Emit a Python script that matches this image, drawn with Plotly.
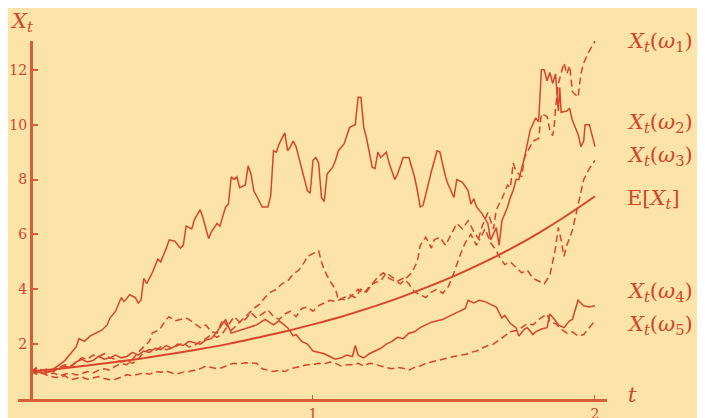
import plotly.graph_objects as go

# sample paths
t_w1 = [0.00, 0.02, 0.04, 0.06, 0.08, 0.10, 0.12, 0.14, 0.16, 0.18, 0.20, 0.22, 0.24, 0.26, 0.28, 0.30, 0.32, 0.34, 0.36, 0.38,
        0.40, 0.42, 0.44, 0.46, 0.48, 0.50, 0.52, 0.54, 0.56, 0.58, 0.60, 0.62, 0.64, 0.66, 0.68, 0.70, 0.72, 0.74, 0.76, 0.78,
        0.80, 0.82, 0.84, 0.86, 0.88, 0.90, 0.92, 0.94, 0.96, 0.98, 1.00, 1.02, 1.04, 1.06, 1.08, 1.10, 1.12, 1.14, 1.16, 1.18,
        1.20, 1.22, 1.24, 1.26, 1.28, 1.30, 1.32, 1.34, 1.36, 1.38, 1.40, 1.42, 1.44, 1.46, 1.48, 1.50, 1.52, 1.54, 1.56, 1.58,
        1.60, 1.62, 1.64, 1.65, 1.67, 1.69, 1.70, 1.71, 1.72, 1.74, 1.75, 1.77, 1.78, 1.80, 1.81, 1.83, 1.84, 1.85, 1.855, 1.86,
        1.87, 1.89, 1.90, 1.91, 1.92, 1.94, 1.95, 1.96, 1.975, 2.00]
x_w1 = [1.00, 1.15, 1.05, 1.10, 1.00, 1.15, 1.25, 1.20, 1.35, 1.50, 1.45, 1.60, 1.55, 1.65, 1.50, 1.45, 1.35, 1.40, 1.30, 1.45,
        1.70, 1.80, 1.75, 1.90, 1.80, 1.85, 1.95, 2.05, 1.90, 1.95, 2.10, 2.20, 2.35, 2.25, 2.40, 2.70, 3.00, 2.80, 2.90, 3.15,
        2.95, 3.10, 3.25, 3.00, 2.90, 3.10, 3.20, 3.00, 3.30, 3.35, 3.20, 3.40, 3.50, 3.60, 3.55, 3.65, 3.60, 3.80, 4.00, 3.85,
        4.10, 4.25, 4.30, 4.60, 4.45, 4.30, 4.40, 4.20, 3.90, 3.80, 3.70, 3.90, 4.00, 3.85, 4.10, 4.60, 5.20, 5.70, 6.00, 5.60,
        6.30, 6.80, 6.20, 6.90, 7.30, 7.80, 7.70, 8.60, 8.30, 8.10, 8.80, 9.20, 9.40, 9.50, 10.40, 10.30, 9.80, 9.60, 9.90, 10.60,
        11.50, 12.25, 11.85, 12.15, 11.20, 11.00, 11.85, 12.25, 12.60, 13.05]

t_w2 = [0.00, 0.02, 0.04, 0.06, 0.08, 0.10, 0.12, 0.14, 0.16, 0.17, 0.19, 0.21, 0.23, 0.25, 0.27, 0.28, 0.30, 0.32, 0.33, 0.35,
        0.37, 0.38, 0.39, 0.40, 0.41, 0.43, 0.45, 0.46, 0.48, 0.49, 0.51, 0.53, 0.54, 0.55, 0.57, 0.58, 0.60, 0.61, 0.63, 0.64,
        0.66, 0.67, 0.69, 0.70, 0.71, 0.72, 0.73, 0.74, 0.76, 0.77, 0.78, 0.79, 0.80, 0.82, 0.84, 0.85, 0.86, 0.87, 0.88, 0.90,
        0.91, 0.92, 0.93, 0.94, 0.95, 0.96, 0.98, 0.99, 1.00, 1.01, 1.02, 1.03, 1.04, 1.05, 1.07, 1.08, 1.09, 1.11, 1.12, 1.13,
        1.15, 1.16, 1.17, 1.18, 1.19, 1.20, 1.21, 1.22, 1.23, 1.24, 1.26, 1.27, 1.29, 1.30, 1.32, 1.34, 1.36, 1.37, 1.38, 1.39,
        1.40, 1.42, 1.44, 1.45, 1.47, 1.48, 1.50, 1.51, 1.53, 1.55, 1.56, 1.57, 1.58, 1.60, 1.62, 1.63, 1.65, 1.66, 1.67, 1.69,
        1.70, 1.71, 1.72, 1.73, 1.75, 1.77, 1.79, 1.80, 1.81, 1.82, 1.83, 1.84, 1.85, 1.86, 1.87, 1.875, 1.88, 1.90, 1.91, 1.92,
        1.94, 1.95, 1.96, 1.965, 1.98, 2.00]
x_w2 = [1.00, 1.05, 0.92, 0.98, 1.10, 1.25, 1.40, 1.65, 1.90, 2.20, 2.10, 2.30, 2.40, 2.50, 2.70, 2.95, 3.20, 3.70, 3.55, 3.80,
        3.70, 3.50, 3.60, 4.40, 4.20, 4.60, 5.10, 5.00, 5.50, 5.80, 5.75, 5.50, 5.60, 6.30, 6.20, 6.55, 6.90, 6.60, 5.85, 6.10,
        6.40, 6.30, 7.00, 7.10, 8.10, 8.00, 8.10, 7.70, 7.80, 8.50, 8.20, 7.60, 7.40, 7.00, 7.00, 7.40, 9.05, 9.00, 9.30, 9.70,
        9.05, 9.20, 9.40, 9.20, 8.80, 8.40, 7.60, 7.50, 8.70, 8.80, 8.60, 7.35, 7.20, 8.20, 8.45, 8.70, 9.05, 9.30, 9.60, 9.90,
        10.00, 11.00, 11.00, 9.90, 9.50, 9.00, 8.45, 8.40, 9.00, 8.80, 9.00, 8.60, 8.00, 8.20, 8.80, 8.80, 8.10, 7.60, 7.00, 7.05,
        7.50, 8.30, 9.05, 9.00, 8.10, 7.80, 7.35, 8.00, 7.90, 7.60, 7.10, 7.30, 7.00, 6.75, 6.40, 5.80, 6.25, 5.60, 6.50, 7.00,
        7.35, 7.60, 8.00, 8.00, 8.80, 9.80, 10.25, 10.10, 12.00, 12.00, 11.60, 11.90, 11.50, 11.85, 10.50, 11.35, 10.45, 10.50, 10.60, 10.15,
        9.65, 9.20, 9.40, 10.00, 10.00, 9.20]

t_w3 = [0.00, 0.02, 0.04, 0.06, 0.08, 0.10, 0.12, 0.14, 0.16, 0.18, 0.20, 0.22, 0.24, 0.26, 0.28, 0.30, 0.32, 0.34, 0.36, 0.38,
        0.40, 0.42, 0.43, 0.45, 0.46, 0.48, 0.49, 0.51, 0.53, 0.55, 0.56, 0.58, 0.60, 0.62, 0.64, 0.66, 0.68, 0.70, 0.71, 0.73,
        0.75, 0.77, 0.79, 0.81, 0.83, 0.85, 0.87, 0.89, 0.91, 0.93, 0.95, 0.97, 0.98, 1.00, 1.02, 1.03, 1.04, 1.06, 1.08, 1.09,
        1.11, 1.13, 1.15, 1.17, 1.19, 1.21, 1.23, 1.25, 1.27, 1.29, 1.31, 1.33, 1.35, 1.37, 1.38, 1.40, 1.42, 1.43, 1.45, 1.47,
        1.49, 1.51, 1.53, 1.55, 1.57, 1.59, 1.61, 1.63, 1.65, 1.66, 1.68, 1.70, 1.72, 1.74, 1.76, 1.78, 1.80, 1.82, 1.84, 1.86,
        1.87, 1.88, 1.89, 1.90, 1.92, 1.94, 1.96, 1.98, 2.00]
x_w3 = [1.00, 1.10, 0.95, 0.90, 0.95, 0.85, 0.90, 0.95, 0.88, 0.92, 1.00, 0.95, 1.05, 1.10, 1.05, 1.20, 1.30, 1.25, 1.45, 1.70,
        1.90, 2.10, 2.40, 2.50, 2.60, 2.90, 3.00, 2.85, 2.90, 2.95, 2.90, 2.75, 2.60, 2.70, 2.45, 2.40, 2.90, 2.60, 2.50, 2.70,
        2.90, 3.10, 3.30, 3.45, 3.70, 3.90, 4.00, 4.20, 4.30, 4.55, 4.70, 5.00, 5.20, 5.30, 5.40, 5.00, 4.70, 4.30, 4.00, 3.60,
        3.70, 3.80, 3.70, 4.00, 3.90, 4.20, 4.45, 4.60, 4.40, 4.30, 4.20, 4.40, 4.60, 5.00, 5.60, 5.90, 5.50, 5.80, 5.90, 5.60,
        6.00, 6.40, 6.20, 6.50, 6.10, 5.80, 6.20, 5.70, 5.40, 5.20, 4.90, 5.00, 4.80, 4.60, 4.70, 4.40, 4.30, 4.20, 4.50, 5.50,
        6.25, 5.80, 5.20, 5.60, 6.15, 7.10, 8.00, 8.40, 8.70]

t_w4 = [0.00, 0.02, 0.04, 0.06, 0.08, 0.10, 0.12, 0.14, 0.16, 0.18, 0.20, 0.22, 0.24, 0.26, 0.28, 0.30, 0.32, 0.34, 0.36, 0.38,
        0.40, 0.42, 0.44, 0.46, 0.48, 0.50, 0.52, 0.54, 0.56, 0.58, 0.60, 0.62, 0.64, 0.67, 0.69, 0.71, 0.74, 0.77, 0.80, 0.83,
        0.86, 0.88, 0.91, 0.93, 0.94, 0.96, 0.98, 1.00, 1.02, 1.04, 1.06, 1.08, 1.10, 1.12, 1.14, 1.15, 1.16, 1.18, 1.20, 1.22,
        1.24, 1.26, 1.28, 1.30, 1.32, 1.34, 1.36, 1.38, 1.40, 1.42, 1.44, 1.46, 1.48, 1.50, 1.52, 1.54, 1.55, 1.57, 1.59, 1.61,
        1.63, 1.65, 1.67, 1.68, 1.70, 1.72, 1.73, 1.75, 1.76, 1.78, 1.79, 1.81, 1.83, 1.84, 1.86, 1.87, 1.89, 1.91, 1.92, 1.94,
        1.95, 1.96, 1.98, 2.00]
x_w4 = [1.00, 0.95, 1.05, 0.98, 1.05, 1.10, 1.20, 1.15, 1.35, 1.45, 1.35, 1.40, 1.55, 1.45, 1.50, 1.60, 1.50, 1.55, 1.70, 1.60,
        1.75, 1.70, 1.85, 1.80, 1.95, 1.85, 2.00, 1.95, 2.10, 2.05, 2.00, 2.15, 2.20, 2.60, 2.90, 2.40, 2.50, 2.60, 2.70, 2.90,
        2.70, 2.85, 2.60, 2.30, 2.35, 2.10, 2.00, 1.75, 1.70, 1.65, 1.55, 1.45, 1.50, 1.60, 1.55, 1.95, 1.60, 1.50, 1.65, 1.75,
        1.85, 2.00, 2.10, 2.25, 2.20, 2.40, 2.45, 2.60, 2.70, 2.80, 2.85, 2.90, 3.00, 3.10, 3.20, 3.30, 3.60, 3.50, 3.60, 3.55,
        3.45, 3.35, 2.95, 3.05, 2.75, 2.60, 2.30, 2.55, 2.60, 2.35, 2.45, 2.55, 2.60, 3.10, 2.85, 2.70, 2.60, 2.85, 2.90, 3.60,
        3.50, 3.40, 3.35, 3.40]

t_w5 = [0.00, 0.02, 0.04, 0.06, 0.08, 0.10, 0.12, 0.14, 0.16, 0.18, 0.20, 0.22, 0.24, 0.26, 0.28, 0.30, 0.32, 0.34, 0.36, 0.38,
        0.40, 0.42, 0.44, 0.46, 0.48, 0.50, 0.52, 0.54, 0.56, 0.58, 0.60, 0.62, 0.64, 0.66, 0.68, 0.70, 0.72, 0.74, 0.76, 0.78,
        0.80, 0.82, 0.84, 0.86, 0.88, 0.90, 0.92, 0.94, 0.96, 0.98, 1.00, 1.02, 1.04, 1.06, 1.08, 1.10, 1.12, 1.14, 1.16, 1.18,
        1.20, 1.22, 1.24, 1.26, 1.28, 1.30, 1.32, 1.34, 1.36, 1.38, 1.40, 1.42, 1.44, 1.46, 1.48, 1.50, 1.52, 1.54, 1.56, 1.58,
        1.60, 1.62, 1.64, 1.66, 1.68, 1.70, 1.72, 1.74, 1.76, 1.78, 1.80, 1.82, 1.83, 1.84, 1.86, 1.88, 1.90, 1.92, 1.94, 1.96,
        1.98, 2.00]
x_w5 = [1.00, 0.90, 0.95, 0.85, 0.80, 0.78, 0.85, 0.70, 0.75, 0.80, 0.72, 0.78, 0.82, 0.75, 0.70, 0.72, 0.80, 0.88, 0.85, 0.90,
        0.95, 0.90, 1.00, 0.98, 1.02, 0.95, 0.92, 0.98, 1.00, 1.05, 1.10, 1.20, 1.15, 1.10, 1.15, 1.25, 1.30, 1.28, 1.32, 1.30,
        1.30, 1.10, 1.05, 1.00, 1.05, 1.00, 1.10, 1.15, 1.20, 1.25, 1.25, 1.30, 1.28, 1.35, 1.30, 1.20, 1.25, 1.25, 1.30, 1.20,
        1.30, 1.28, 1.20, 1.15, 1.10, 1.15, 1.12, 1.05, 1.15, 1.20, 1.30, 1.35, 1.40, 1.45, 1.50, 1.55, 1.60, 1.62, 1.70, 1.75,
        1.85, 1.95, 2.00, 2.15, 2.30, 2.45, 2.50, 2.60, 2.75, 2.70, 2.90, 3.05, 3.10, 2.80, 2.75, 2.55, 2.40, 2.45, 2.30, 2.35,
        2.60, 2.85]

# expected value curve
t_mean = [0.0, 0.1, 0.2, 0.3, 0.4, 0.5, 0.6, 0.7, 0.8, 0.9, 1.0, 1.1, 1.2, 1.3, 1.4, 1.5, 1.6, 1.7, 1.8, 1.9, 2.0]
x_mean = [1.0, 1.105, 1.22, 1.35, 1.49, 1.65, 1.82, 2.01, 2.23, 2.46, 2.72, 3.0, 3.32, 3.67, 4.06, 4.48, 4.95, 5.47, 6.05, 6.69, 7.39]

ytick_vals = [2, 4, 6, 8, 10, 12]
xtick_vals = [1, 2]

red = "#D9452B"
txt = "#D3452A"
axis_col = "#D65E38"
bg = "#FCE3A7"
dash = "7px,4px"

fig = go.Figure()
fig.add_trace(go.Scatter(x=t_w1, y=x_w1, mode="lines", line=dict(color=red, width=1.5, dash=dash)))
fig.add_trace(go.Scatter(x=t_w2, y=x_w2, mode="lines", line=dict(color=red, width=1.5)))
fig.add_trace(go.Scatter(x=t_w3, y=x_w3, mode="lines", line=dict(color=red, width=1.5, dash=dash)))
fig.add_trace(go.Scatter(x=t_w4, y=x_w4, mode="lines", line=dict(color=red, width=1.5)))
fig.add_trace(go.Scatter(x=t_w5, y=x_w5, mode="lines", line=dict(color=red, width=1.5, dash=dash)))
fig.add_trace(go.Scatter(x=t_mean, y=x_mean, mode="lines", line=dict(color=red, width=2, shape="spline")))

serif = "DejaVu Serif"
labels = [
    ("<i>X</i><sub><i>t</i></sub>(<i>ω</i><sub>1</sub>)", 13.0),
    ("<i>X</i><sub><i>t</i></sub>(<i>ω</i><sub>2</sub>)", 10.05),
    ("<i>X</i><sub><i>t</i></sub>(<i>ω</i><sub>3</sub>)", 8.85),
    ("E[<i>X</i><sub><i>t</i></sub>]", 7.3),
    ("<i>X</i><sub><i>t</i></sub>(<i>ω</i><sub>4</sub>)", 3.9),
    ("<i>X</i><sub><i>t</i></sub>(<i>ω</i><sub>5</sub>)", 2.7),
]
for text, yv in labels:
    fig.add_annotation(x=1.031, y=yv, xref="paper", yref="y", text=text, showarrow=False,
                       xanchor="left", yanchor="middle", font=dict(family=serif, size=21, color=txt))

fig.add_annotation(x=-0.017, y=1.052, xref="paper", yref="paper", text="<i>X</i><sub><i>t</i></sub>",
                   showarrow=False, xanchor="left", yanchor="middle", font=dict(family=serif, size=21, color=txt))
fig.add_annotation(x=1.033, y=0.15, xref="paper", yref="y", text="<i>t</i>", showarrow=False,
                   xanchor="left", yanchor="middle", font=dict(family=serif, size=21, color=txt))

# page is drawn 8px in from the window corner, so margins are shifted by 8px
fig.update_layout(
    width=705, height=418,
    margin=dict(l=10, r=106, t=33, b=27),
    paper_bgcolor=bg, plot_bgcolor=bg,
    showlegend=False,
    xaxis=dict(range=[-0.0461, 2.0426], showgrid=False, zeroline=False, automargin=False,
               showline=True, linecolor=axis_col, linewidth=3,
               tickvals=xtick_vals, ticks="inside", ticklen=4, tickwidth=1, tickcolor=axis_col,
               tickfont=dict(family=serif, size=14, color=txt)),
    yaxis=dict(range=[0, 13.05], showgrid=False, zeroline=False, automargin=False,
               anchor="free", position=13 / 589,
               showline=True, linecolor=axis_col, linewidth=3,
               tickvals=ytick_vals, ticks="inside", ticklen=5, tickwidth=2, tickcolor=axis_col,
               tickfont=dict(family=serif, size=14, color=txt)),
)

fig.write_html("out.html")
